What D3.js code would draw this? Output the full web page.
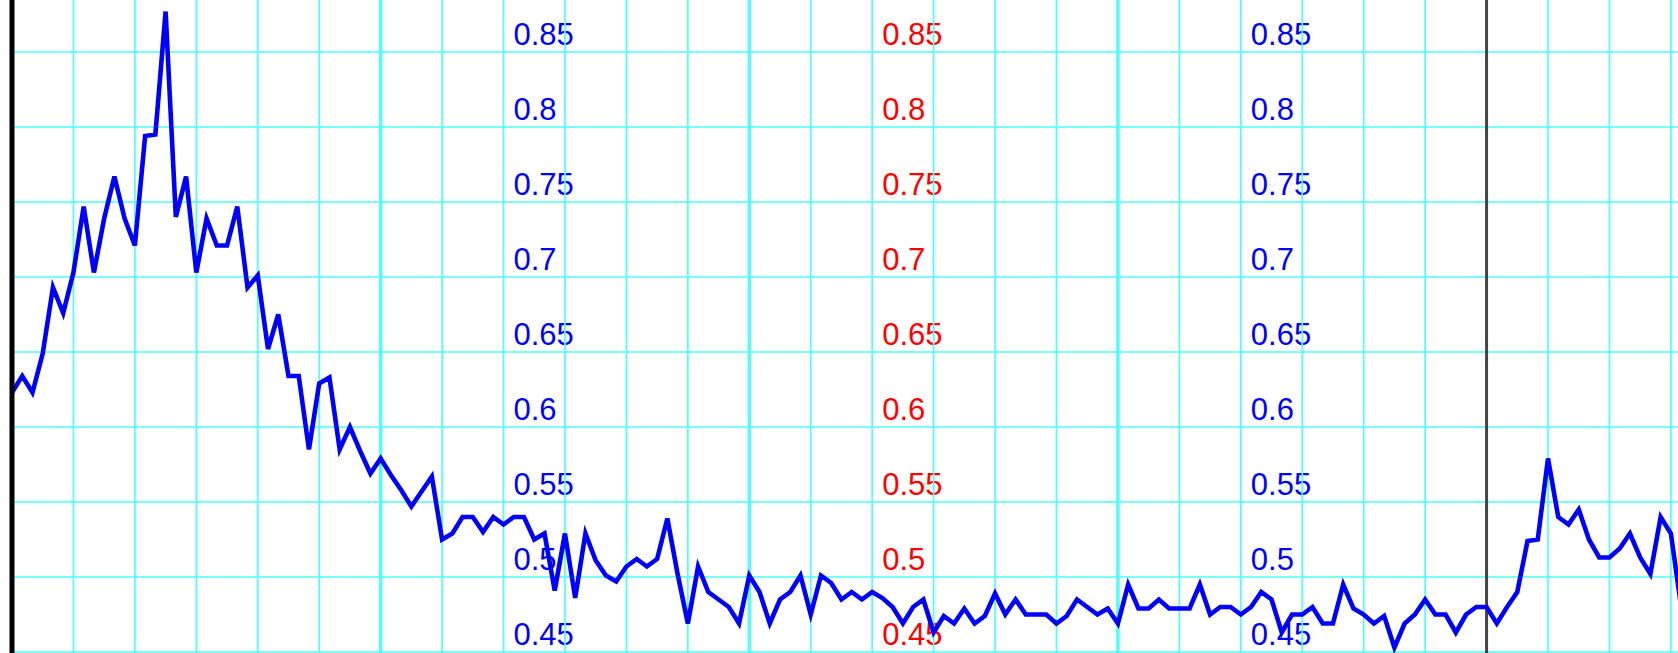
<!DOCTYPE html><html>
<head>
    <meta charset="utf-8">
    <style>
        body { margin: 0; background: #fff; overflow: hidden; }
        svg { display: block; }
    </style>
</head>
<body>
    <script src="https://cdn.jsdelivr.net/npm/d3@7/dist/d3.min.js"></script>
    <script>
        // one reading per step
        var values = [
            0.623,0.634,0.623,0.649,0.693,0.676,0.703,0.747,0.703,0.739,
            0.767,0.739,0.721,0.794,0.795,0.877,0.740,0.767,0.703,0.739,
            0.721,0.721,0.747,0.693,0.701,0.652,0.675,0.634,0.634,0.585,
            0.629,0.633,0.585,0.600,0.584,0.569,0.579,0.568,0.558,0.547,
            0.557,0.567,0.525,0.529,0.540,0.540,0.530,0.540,0.535,0.540,
            0.540,0.525,0.529,0.491,0.529,0.486,0.529,0.511,0.501,0.497,
            0.507,0.512,0.507,0.512,0.539,0.502,0.469,0.507,0.490,0.485,
            0.480,0.469,0.501,0.490,0.469,0.485,0.490,0.501,0.475,0.501,
            0.496,0.485,0.490,0.485,0.490,0.486,0.480,0.469,0.480,0.485,
            0.463,0.474,0.469,0.479,0.469,0.474,0.489,0.475,0.485,0.475,
            0.475,0.475,0.469,0.474,0.485,0.480,0.475,0.479,0.469,0.495,
            0.479,0.479,0.485,0.479,0.479,0.479,0.495,0.475,0.480,0.480,
            0.475,0.480,0.490,0.485,0.463,0.475,0.475,0.480,0.469,0.469,
            0.495,0.479,0.475,0.469,0.474,0.453,0.469,0.475,0.485,0.475,
            0.475,0.463,0.475,0.480,0.480,0.469,0.480,0.490,0.524,0.525,
            0.579,0.540,0.535,0.545,0.525,0.513,0.513,0.519,0.529,0.513,
            0.502,0.540,0.529,0.480
        ];
        var yTicks = [0.85, 0.8, 0.75, 0.7, 0.65, 0.6, 0.55, 0.5, 0.45];
        var labelCols = [8, 14, 20];           // grid column the label sits next to
        var labelColors = ['#0000ff', '#ff0000', '#0000ff'];
        var markerStep = 144;                 // dark vertical marker

        var width = 1678, height = 653;
        var step = 10.24, x0 = 12;

        var x = d3.scaleLinear()
            .domain([0, values.length - 1])
            .range([x0, x0 + step * (values.length - 1)]);
        var y = d3.scaleLinear()
            .domain([0.45, 0.85])
            .range([652, 52]);

        var svg = d3.select('body')
            .append('svg')
            .attr('width', width)
            .attr('height', height);

        // value labels (under the grid)
        labelCols.forEach(function (c, j) {
            svg.append('g').selectAll('text')
                .data(yTicks)
                .enter().append('text')
                .attr('x', x(c * 6) + 10)
                .attr('y', function (d) { return y(d) - 7; })
                .attr('fill', labelColors[j])
                .style('font-family', 'Liberation Sans, Arial, sans-serif')
                .style('font-size', '31px')
                .text(function (d) { return d; });
        });

        // grid
        var hLines = d3.range(0.45, 0.9, 0.05);
        svg.append('g').selectAll('line')
            .data(hLines)
            .enter().append('line')
            .attr('x1', x0).attr('x2', width)
            .attr('y1', function (d) { return y(d); })
            .attr('y2', function (d) { return y(d); })
            .attr('stroke', '#4dffff')
            .attr('stroke-width', 1.7);

        var vSteps = d3.range(6, values.length + 6, 6);
        svg.append('g').selectAll('line')
            .data(vSteps.filter(function (d) { return d != markerStep; }))
            .enter().append('line')
            .attr('x1', function (d) { return x(d); })
            .attr('x2', function (d) { return x(d); })
            .attr('y1', 0).attr('y2', height)
            .attr('stroke', '#4dffff')
            .attr('stroke-width', function (d) { return d % 36 == 0 ? 3.5 : 1.7; });

        svg.append('line')
            .attr('x1', x(markerStep)).attr('x2', x(markerStep))
            .attr('y1', 0).attr('y2', height)
            .attr('stroke', '#444')
            .attr('stroke-width', 3);

        // data line
        var line = d3.line()
            .x(function (d, i) { return x(i); })
            .y(function (d) { return y(d); });

        svg.append('path')
            .datum(values)
            .attr('d', line)
            .attr('fill', 'none')
            .attr('stroke', '#0000ff')
            .attr('stroke-width', 4.6)
            .attr('stroke-linejoin', 'miter');

        // left axis
        svg.append('line')
            .attr('x1', x0).attr('x2', x0)
            .attr('y1', 0).attr('y2', height)
            .attr('stroke', '#000')
            .attr('stroke-width', 5);
    </script>
</body></html>
